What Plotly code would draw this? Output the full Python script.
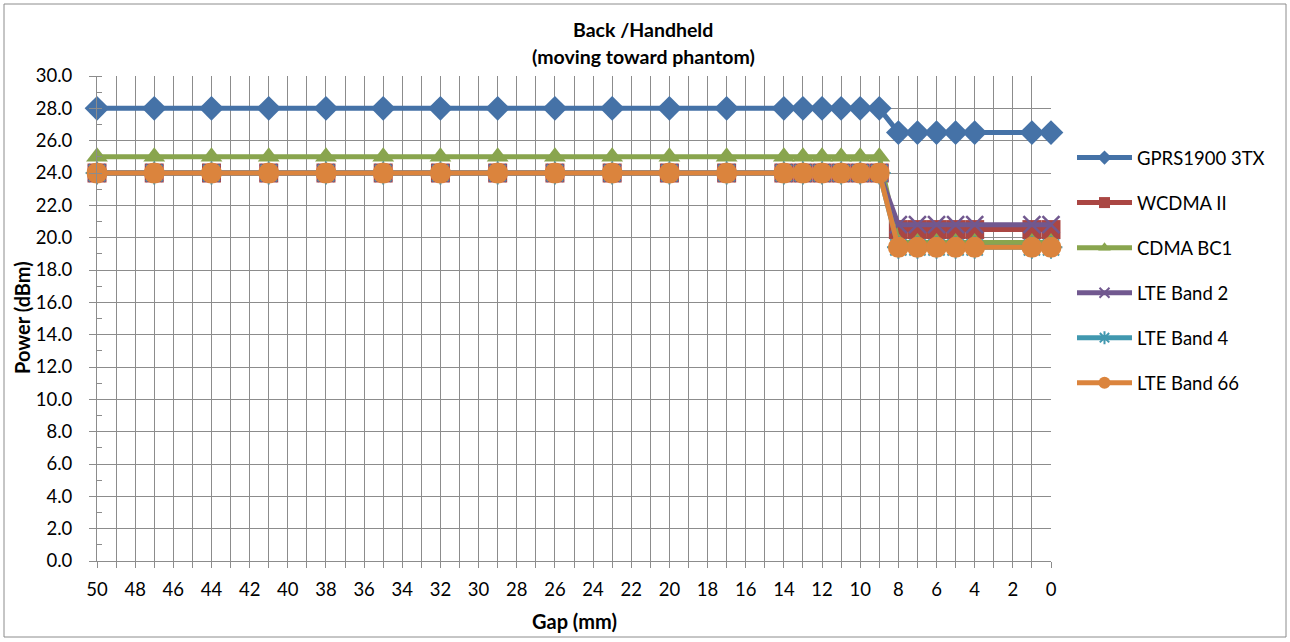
import plotly.graph_objects as go

# ---- data ----
gap_mm = [50, 47, 44, 41, 38, 35, 32, 29, 26, 23, 20, 17, 14, 13, 12, 11, 10, 9, 8, 7, 6, 5, 4, 1, 0]
gprs1900_3tx = [28.0, 28.0, 28.0, 28.0, 28.0, 28.0, 28.0, 28.0, 28.0, 28.0, 28.0, 28.0, 28.0, 28.0, 28.0, 28.0, 28.0, 28.0,
                26.5, 26.5, 26.5, 26.5, 26.5, 26.5, 26.5]
wcdma_ii = [24.0, 24.0, 24.0, 24.0, 24.0, 24.0, 24.0, 24.0, 24.0, 24.0, 24.0, 24.0, 24.0, 24.0, 24.0, 24.0, 24.0, 24.0,
            20.5, 20.5, 20.5, 20.5, 20.5, 20.5, 20.5]
cdma_bc1 = [25.0, 25.0, 25.0, 25.0, 25.0, 25.0, 25.0, 25.0, 25.0, 25.0, 25.0, 25.0, 25.0, 25.0, 25.0, 25.0, 25.0, 25.0,
            19.7, 19.7, 19.7, 19.7, 19.7, 19.7, 19.7]
lte_band2 = [24.0, 24.0, 24.0, 24.0, 24.0, 24.0, 24.0, 24.0, 24.0, 24.0, 24.0, 24.0, 24.0, 24.0, 24.0, 24.0, 24.0, 24.0,
             20.8, 20.8, 20.8, 20.8, 20.8, 20.8, 20.8]
lte_band4 = [24.0, 24.0, 24.0, 24.0, 24.0, 24.0, 24.0, 24.0, 24.0, 24.0, 24.0, 24.0, 24.0, 24.0, 24.0, 24.0, 24.0, 24.0,
             19.4, 19.4, 19.4, 19.4, 19.4, 19.4, 19.4]
lte_band66 = [24.0, 24.0, 24.0, 24.0, 24.0, 24.0, 24.0, 24.0, 24.0, 24.0, 24.0, 24.0, 24.0, 24.0, 24.0, 24.0, 24.0, 24.0,
              19.4, 19.4, 19.4, 19.4, 19.4, 19.4, 19.4]

series_names = ["GPRS1900 3TX", "WCDMA II", "CDMA BC1", "LTE Band 2", "LTE Band 4", "LTE Band 66"]
series_values = [gprs1900_3tx, wcdma_ii, cdma_bc1, lte_band2, lte_band4, lte_band66]

title_lines = ["Back /Handheld", "(moving toward phantom)"]
x_title = "Gap (mm)"
y_title = "Power (dBm)"

# ---- styles ----
FONT = "Lato, Calibri, Carlito, sans-serif"
colors = ["#4572A7", "#AA4643", "#89A54E", "#71588F", "#4198AF", "#DB843D"]
markers = [
    dict(symbol="diamond", size=19),
    dict(symbol="square", size=19),
    dict(symbol="triangle-up", size=19),
    dict(symbol="x-thin-open", size=17, line=dict(width=2.5)),
    dict(symbol="asterisk-open", size=19, line=dict(width=2)),
    dict(symbol="circle", size=21),
]
legend_markers = [
    dict(symbol="diamond", size=11),
    dict(symbol="square", size=11),
    dict(symbol="triangle-up", size=11),
    dict(symbol="x-thin-open", size=10, line=dict(width=2)),
    dict(symbol="asterisk-open", size=11, line=dict(width=2)),
    dict(symbol="circle", size=12),
]
GRID = "#8C8C8C"


def colored(mk, c):
    mk = dict(mk)
    mk["color"] = c
    if "line" in mk:
        mk["line"] = dict(mk["line"], color=c)
    return mk


fig = go.Figure()
for i, (name, vals) in enumerate(zip(series_names, series_values)):
    fig.add_trace(go.Scatter(
        x=gap_mm, y=vals, name=name, mode="lines+markers",
        line=dict(color=colors[i], width=5),
        marker=colored(markers[i], colors[i]), cliponaxis=False,
        legendgroup=name, showlegend=False,
    ))
for i, name in enumerate(series_names):
    fig.add_trace(go.Scatter(
        x=[None], y=[None], name=name, mode="lines+markers",
        line=dict(color=colors[i], width=5),
        marker=colored(legend_markers[i], colors[i]),
        legendgroup=name, showlegend=True,
    ))

W, H = 1290, 642
L, R, T, B = 97, 239, 76, 81
pw, ph = W - L - R, H - T - B


def px_x(x):
    return (x - L) / pw


def px_y(y):
    return (H - B - y) / ph


TICKSIZE = 18.5
fig.update_layout(
    width=W, height=H,
    margin=dict(l=L, r=R, t=T, b=B),
    paper_bgcolor="white", plot_bgcolor="white",
    font=dict(family=FONT, size=TICKSIZE, color="black"),
    showlegend=True,
    legend=dict(
        x=px_x(1072), y=px_y(139), xanchor="left", yanchor="top",
        font=dict(family=FONT, size=TICKSIZE, color="black"),
        itemwidth=55, tracegroupgap=18, bgcolor="rgba(0,0,0,0)",
    ),
    xaxis=dict(
        range=[50, 0], dtick=2, tick0=0,
        showgrid=True, gridcolor=GRID, gridwidth=1,
        showline=True, linecolor=GRID, linewidth=1,
        ticks="outside", ticklen=6, tickcolor=GRID,
        ticklabelstandoff=6,
        zeroline=False,
        minor=dict(dtick=1, showgrid=True, gridcolor=GRID, gridwidth=1,
                   ticks="outside", ticklen=6, tickcolor=GRID),
        tickfont=dict(family=FONT, size=TICKSIZE),
    ),
    yaxis=dict(
        range=[0, 30], dtick=2, tick0=0, tickformat=".1f",
        showgrid=True, gridcolor=GRID, gridwidth=1,
        showline=True, linecolor=GRID, linewidth=1,
        ticks="outside", ticklen=7, tickcolor=GRID,
        ticklabelstandoff=13,
        zeroline=False,
        minor=dict(dtick=1, showgrid=False, ticks="inside", ticklen=5, tickcolor=GRID),
        tickfont=dict(family=FONT, size=TICKSIZE),
    ),
    shapes=[dict(type="rect", xref="paper", yref="paper",
                 x0=px_x(4), x1=px_x(1286), y0=px_y(637), y1=px_y(4),
                 line=dict(color="#8C8C8C", width=1), fillcolor="rgba(0,0,0,0)", layer="below")],
    annotations=[
        dict(text="<b>%s</b>" % title_lines[0], xref="paper", yref="paper",
             x=px_x(643), y=px_y(30), xanchor="center", yanchor="middle",
             showarrow=False, font=dict(family=FONT, size=19.5)),
        dict(text="<b>%s</b>" % title_lines[1], xref="paper", yref="paper",
             x=px_x(643), y=px_y(57), xanchor="center", yanchor="middle",
             showarrow=False, font=dict(family=FONT, size=19.5)),
        dict(text="<b>%s</b>" % x_title, xref="paper", yref="paper",
             x=px_x(574), y=px_y(621), xanchor="center", yanchor="middle",
             showarrow=False, font=dict(family=FONT, size=20)),
        dict(text="<b>%s</b>" % y_title, xref="paper", yref="paper",
             x=px_x(22), y=px_y(318), xanchor="center", yanchor="middle",
             textangle=-90, showarrow=False, font=dict(family=FONT, size=20)),
    ],
)

fig.write_html("out.html", config={"displayModeBar": False},
               post_script="document.body.style.margin='0';document.body.style.overflow='hidden';")
